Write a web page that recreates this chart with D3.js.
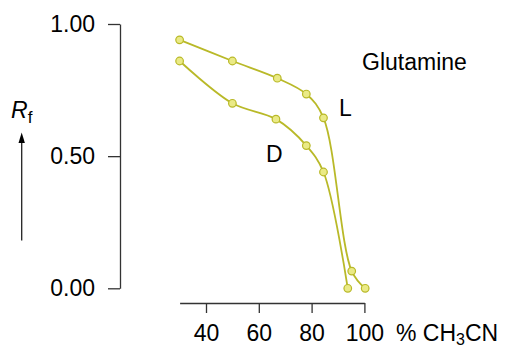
<!DOCTYPE html>
<html>
<head>
<meta charset="utf-8">
<script src="https://cdn.jsdelivr.net/npm/d3@7"></script>
<style>
  body { margin: 0; background: #fff; }
  text { font-family: "Liberation Sans", Arial, sans-serif; fill: #000; }
</style>
</head>
<body>
<script>
var svgWidth = 505;
var svgHeight = 347;
var fontSize = "23px";

// data
var lX = [30, 50, 67, 78, 84.5, 95.2, 100.3];
var lRf = [0.94, 0.86, 0.795, 0.735, 0.645, 0.065, 0.0];
var dX = [30, 50, 66.5, 78, 84.5, 93.7];
var dRf = [0.86, 0.70, 0.64, 0.54, 0.44, 0.0];
var xTicks = [40, 60, 80, 100];
var yTicks = [0, 0.5, 1];

var lineColor = "#b9b928";
var dotFill = "#eaea86";

var svg = d3.select("body").append("svg")
  .attr("width", svgWidth)
  .attr("height", svgHeight);

// scales
var x = d3.scaleLinear().domain([30, 100]).range([179.6, 364.4]);
var y = d3.scaleLinear().domain([0, 1]).range([288.3, 24]);

// y axis
var gY = svg.append("g")
  .attr("transform", "translate(120,0)")
  .call(d3.axisLeft(y).tickValues(yTicks).tickFormat(d3.format(".2f")).tickSize(12).tickSizeOuter(0).tickPadding(13));

// x axis
var gX = svg.append("g")
  .attr("transform", "translate(0,303)")
  .call(d3.axisBottom(x).tickValues(xTicks).tickSize(10).tickSizeOuter(0).tickPadding(12));

svg.selectAll(".domain, .tick line").attr("stroke", "#333").attr("stroke-width", 1.3);
svg.selectAll(".tick text").style("font-size", fontSize).attr("fill", "#000")
  .style("font-family", "'Liberation Sans', Arial, sans-serif");

// series
var line = d3.line()
  .x(function(d) { return x(d[0]); })
  .y(function(d) { return y(d[1]); })
  .curve(d3.curveCatmullRom.alpha(0.5));

var series = [
  d3.zip(lX, lRf),
  d3.zip(dX, dRf)
];

series.forEach(function(pts) {
  svg.append("path")
    .datum(pts)
    .attr("d", line)
    .attr("fill", "none")
    .attr("stroke", lineColor)
    .attr("stroke-width", 1.8);

  svg.selectAll(null)
    .data(pts)
    .enter().append("circle")
    .attr("cx", function(d) { return x(d[0]); })
    .attr("cy", function(d) { return y(d[1]); })
    .attr("r", 3.8)
    .attr("fill", dotFill)
    .attr("stroke", lineColor)
    .attr("stroke-width", 1.2);
});

// labels
svg.append("text").attr("x", 362).attr("y", 70).style("font-size", fontSize).text("Glutamine");
svg.append("text").attr("x", 339).attr("y", 116).style("font-size", fontSize).text("L");
svg.append("text").attr("x", 266).attr("y", 161.5).style("font-size", fontSize).text("D");

var xl = svg.append("text").attr("x", 396).attr("y", 341).style("font-size", fontSize);
xl.append("tspan").text("% CH");
xl.append("tspan").attr("dy", 4).style("font-size", "16px").text("3");
xl.append("tspan").attr("dy", -4).text("CN");

var rf = svg.append("text").attr("x", 11).attr("y", 118).style("font-size", fontSize);
rf.append("tspan").style("font-style", "italic").text("R");
rf.append("tspan").attr("dy", 5).style("font-size", "17px").text("f");

// arrow
svg.append("line")
  .attr("x1", 21.7).attr("x2", 21.7)
  .attr("y1", 240.5).attr("y2", 140)
  .attr("stroke", "#222").attr("stroke-width", 1.3);
svg.append("path")
  .attr("d", "M21.7,132.5 L18.5,143 L24.9,143 Z")
  .attr("fill", "#000");
</script>
</body>
</html>
